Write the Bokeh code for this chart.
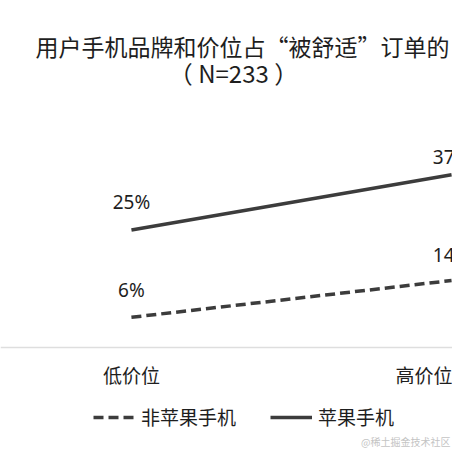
from bokeh.plotting import figure
from bokeh.models import (ColumnDataSource, Range1d, FixedTicker, Label, Legend, LegendItem)
from bokeh.core.properties import value
from bokeh.embed import file_html
from bokeh.resources import INLINE

# ---- data ----
categories = ["低价位", "高价位"]
apple = [25, 37]
non_apple = [6, 14]
series_names = ["非苹果手机", "苹果手机"]
title_line1 = "用户手机品牌和价位占“被舒适”订单的"
title_line2 = "（ N=233 ）"
watermark = "@稀土掘金技术社区"

CJK = "Noto Sans CJK SC"
LINE_COLOR = "#3c3c3c"
TEXT_COLOR = "#1e1e1e"

xs = list(range(len(categories)))

p = figure(width=452, height=452, output_backend="svg", toolbar_location=None,
           x_range=Range1d(-0.409, 1.003), y_range=Range1d(-23.39, 74.87),
           y_axis_location=None, min_border=0)
p.outline_line_color = None
p.xgrid.visible = False
p.ygrid.visible = False
p.background_fill_color = "white"
p.border_fill_color = "white"

src_non = ColumnDataSource(dict(x=xs, y=non_apple,
                                t=[f"{v}%" for v in non_apple], off=[-27, -26]))
src_app = ColumnDataSource(dict(x=xs, y=apple,
                                t=[f"{v}%" for v in apple], off=[-28, -18]))

r_non = p.line("x", "y", source=src_non, line_color=LINE_COLOR, line_width=3.5,
               line_dash="10 5")
r_app = p.line("x", "y", source=src_app, line_color=LINE_COLOR, line_width=3.5)

for s in (src_non, src_app):
    p.text("x", "y", text="t", source=s, y_offset="off", text_align="center",
           text_baseline="alphabetic", text_font=value("Noto Sans"),
           text_font_size="19px", text_color=TEXT_COLOR)

ax = p.xaxis[0]
ax.fixed_location = -0.565
ax.ticker = FixedTicker(ticks=xs)
ax.major_label_overrides = {i: c for i, c in zip(xs, categories)}
ax.major_label_text_font = CJK
ax.major_label_text_font_size = "19px"
ax.major_label_text_color = TEXT_COLOR
ax.major_label_standoff = 7
ax.major_tick_line_color = None
ax.minor_tick_line_color = None
ax.axis_line_color = "#dedede"
ax.axis_line_width = 1.5

p.add_layout(Label(x=35, y=407, x_units="screen", y_units="screen", text=title_line1,
                   text_font=CJK, text_font_size="23px", text_color=TEXT_COLOR,
                   text_baseline="alphabetic", text_align="left"))
p.add_layout(Label(x=233, y=380, x_units="screen", y_units="screen", text=title_line2,
                   text_font=CJK, text_font_size="24px", text_color=TEXT_COLOR,
                   text_baseline="alphabetic", text_align="center"))
p.add_layout(Label(x=450, y=11, x_units="screen", y_units="screen", text=watermark,
                   text_font=CJK, text_font_size="10px", text_color="#c4c4c4",
                   text_baseline="alphabetic", text_align="right"))

legend = Legend(items=[LegendItem(label=series_names[0], renderers=[r_non]),
                       LegendItem(label=series_names[1], renderers=[r_app])],
                orientation="horizontal", location=(93, 22),
                label_text_font=CJK, label_text_font_size="19px",
                label_text_color=TEXT_COLOR, label_standoff=6,
                glyph_width=42, glyph_height=20, label_height=20, spacing=34,
                padding=0, margin=0, border_line_alpha=0, background_fill_alpha=0)
p.add_layout(legend, "center")

open("out.html", "w").write(file_html(p, INLINE))
